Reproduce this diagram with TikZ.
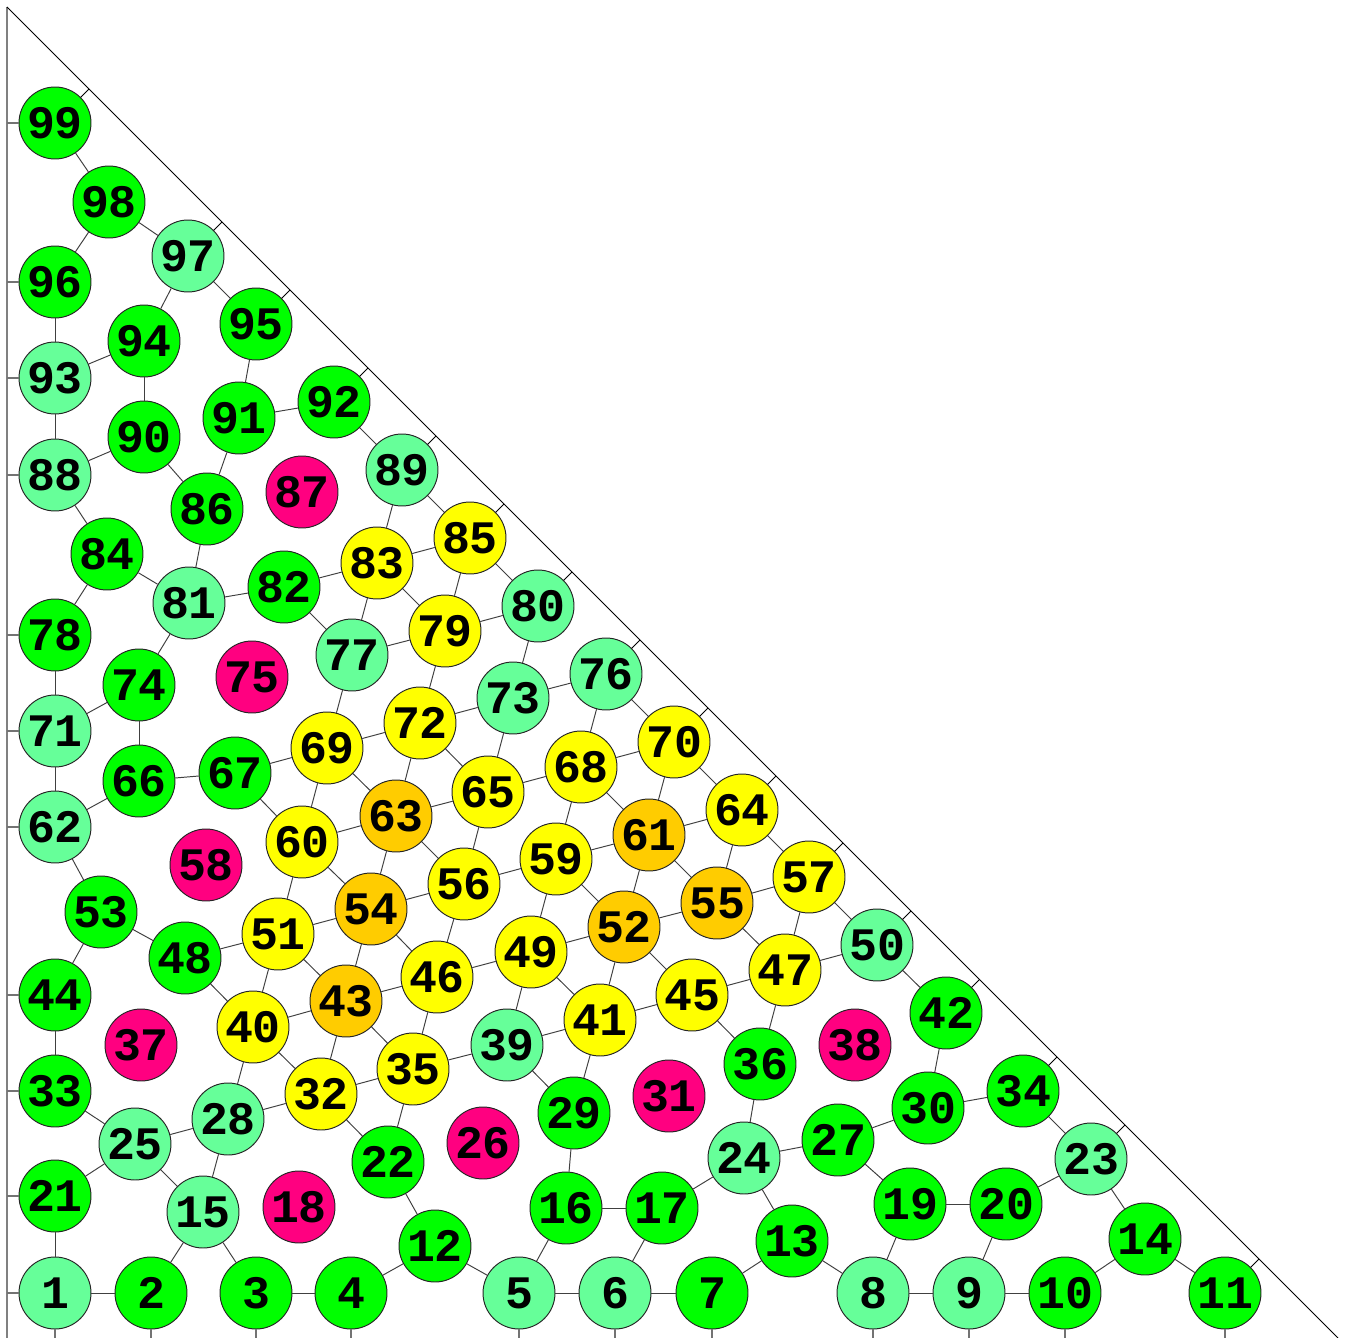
\documentclass[tikz,border=0pt]{standalone}
\usepackage{fontspec}
\setmonofont{Liberation Mono}
\usetikzlibrary{calc}
\definecolor{cmint}{RGB}{102,255,153}
\definecolor{cgrn}{RGB}{0,255,0}
\definecolor{cyel}{RGB}{255,255,0}
\definecolor{corg}{RGB}{255,204,0}
\definecolor{cmag}{RGB}{255,0,128}
\tikzset{
  vtx/.style={circle, draw=black!85, line width=0.55pt, minimum size=1.44cm, inner sep=0pt,
    font=\ttfamily\bfseries\fontsize{26.5}{26.5}\selectfont},
  link/.style={draw=black!75, line width=0.55pt},
  axisline/.style={draw=black!50, line width=1.1pt},
  hyp/.style={draw=black, line width=0.55pt},
  atick/.style={draw=black!55, line width=0.7pt},
  dtick/.style={draw=black, line width=0.55pt}
}
\begin{document}
\begin{tikzpicture}[x=0.02cm,y=-0.02cm]
\useasboundingbox[fill=white] (0,0) rectangle (1347,1338);
\coordinate (T) at (7,7);
\coordinate (BL) at (7,1338);
\coordinate (BR) at (1338,1338);
\draw[axisline] (T) -- (BL);
\draw[hyp] (T) -- (BR);
\foreach \n/\x/\y/\c in {
 1/55/1293/cmint, 2/151/1293/cgrn, 3/256/1293/cgrn, 4/351/1293/cgrn, 5/519/1293/cmint,
 6/615/1293/cmint, 7/712/1293/cgrn, 8/873/1293/cmint, 9/969/1293/cmint, 10/1065/1293/cgrn,
 11/1225/1293/cgrn, 12/435/1246/cgrn, 13/792/1241/cgrn, 14/1145/1239/cgrn, 15/203/1212/cmint,
 16/566/1208/cgrn, 17/662/1208/cgrn, 18/299/1207/cmag, 19/910/1204/cgrn, 20/1006/1204/cgrn,
 21/55/1196/cgrn, 22/388/1162/cgrn, 23/1091/1159/cmint, 24/744/1158/cmint, 25/135/1144/cmint,
 26/483/1143/cmag, 27/838/1140/cgrn, 28/228/1119/cmint, 29/574/1113/cgrn, 30/928/1108/cgrn,
 31/669/1096/cmag, 32/321/1094/cyel, 33/55/1091/cgrn, 34/1023/1091/cgrn, 35/413/1069/cyel,
 36/760/1064/cgrn, 37/141/1045/cmag, 38/855/1045/cmag, 39/507/1045/cmint, 40/253/1027/cyel,
 41/600/1020/cyel, 42/946/1013/cgrn, 43/346/1001/corg, 44/55/995/cgrn, 45/692/995/cyel,
 46/437/977/cyel, 47/785/970/cyel, 48/185/958/cgrn, 49/531/952/cyel, 50/877/945/cmint,
 51/278/934/cyel, 52/624/927/corg, 53/101/912/cgrn, 54/371/909/corg, 55/717/903/corg,
 56/464/884/cyel, 57/809/877/cyel, 58/206/865/cmag, 59/556/859/cyel, 60/302/842/cyel,
 61/649/835/corg, 62/55/827/cmint, 63/396/816/corg, 64/742/810/cyel, 65/488/792/cyel,
 66/139/781/cgrn, 67/235/773/cgrn, 68/581/767/cyel, 69/327/748/cyel, 70/674/742/cyel,
 71/55/731/cmint, 72/420/723/cyel, 73/513/698/cmint, 74/139/685/cgrn, 75/252/677/cmag,
 76/606/674/cmint, 77/352/655/cmint, 78/55/635/cgrn, 79/445/631/cyel, 80/538/606/cmint,
 81/189/603/cmint, 82/284/587/cgrn, 83/377/563/cyel, 84/107/554/cgrn, 85/470/538/cyel,
 86/207/509/cgrn, 87/302/492/cmag, 88/55/475/cmint, 89/402/470/cmint, 90/144/437/cgrn,
 91/239/418/cgrn, 92/334/402/cgrn, 93/55/378/cmint, 94/144/341/cgrn, 95/256/324/cgrn,
 96/55/282/cgrn, 97/188/256/cmint, 98/109/202/cgrn, 99/55/123/cgrn}
 {\node[vtx, fill=\c] (n\n) at (\x,\y) {\n};}
\foreach \a/\b in {
 99/98, 98/97, 98/96, 97/94, 97/95, 96/93, 93/94, 94/90, 93/88, 95/91, 91/92, 92/89,
 88/90, 90/86, 91/86, 88/84, 84/78, 84/81, 86/81, 81/82, 81/74, 82/83, 82/77,
 83/89, 83/85, 83/79, 83/77, 85/89, 85/79, 85/80, 79/80, 79/77, 79/72, 77/69,
 78/71, 71/74, 71/62, 74/66, 66/62, 66/67, 67/69, 67/60, 69/72, 69/63, 69/60,
 72/73, 72/65, 72/63, 73/80, 73/76, 73/65, 76/70, 76/68, 68/65, 68/70, 68/61, 68/59,
 70/64, 70/61, 64/61, 64/57, 64/55, 61/52, 61/59, 61/55, 57/55, 57/50, 57/47,
 55/52, 55/47, 52/49, 52/45, 52/41, 50/47, 50/42, 47/45, 47/36, 45/41, 45/36,
 42/30, 30/34, 30/27, 34/23, 23/20, 23/14, 14/10, 14/11, 19/20, 19/8, 19/27, 20/9,
 8/9, 9/10, 8/13, 13/7, 13/24, 24/27, 24/36, 24/17, 17/16, 17/6, 16/5, 16/29, 6/5, 6/7,
 29/41, 29/39, 39/41, 39/49, 39/35, 49/41, 49/59, 59/56, 59/52, 65/56,
 56/54, 56/63, 56/46, 54/46, 63/54, 63/60, 63/65, 60/51, 60/54, 54/51, 54/43,
 51/48, 51/40, 51/43, 48/53, 48/40, 53/44, 53/62, 44/33, 33/25, 25/21, 25/28, 25/15,
 21/1, 1/2, 2/15, 15/3, 15/28, 3/4, 4/12, 12/22, 12/5, 22/32, 22/35,
 28/32, 28/40, 32/40, 32/43, 32/35, 35/43, 35/46, 43/40, 43/46, 46/49}
 {\draw[link] (n\a) -- (n\b);}
\foreach \n in {99,96,93,88,78,71,62,44,33,21,1}
 {\draw[atick] (n\n) -- ($(T)!(n\n)!(BL)$);}
\foreach \n in {1,2,3,4,5,6,7,8,9,10,11}
 {\draw[atick] (n\n) -- ($(BL)!(n\n)!(BR)$);}
\foreach \n in {99,97,95,92,89,85,80,76,70,64,57,50,42,34,23,11}
 {\draw[dtick] (n\n) -- ($(T)!(n\n)!(BR)$);}
\end{tikzpicture}
\end{document}
